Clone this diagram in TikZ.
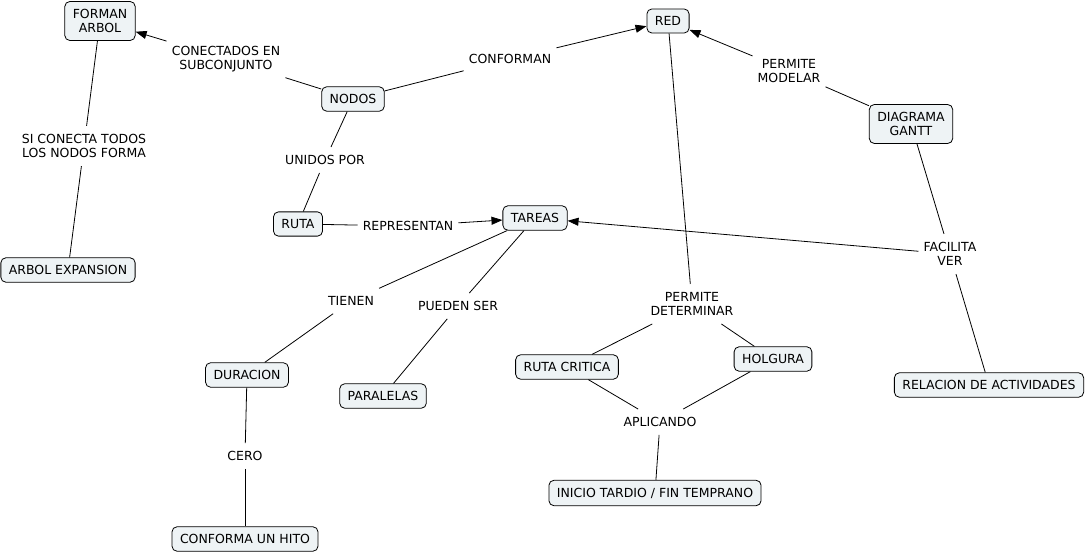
\documentclass[tikz,border=0pt]{standalone}
\usepackage{fontspec}
\setmainfont{DejaVu Sans}
\usetikzlibrary{arrows.meta}
\definecolor{conceptfill}{HTML}{EEF3F5}
\tikzset{
  concept/.style={shape=rectangle, rounded corners=5pt, draw=black, fill=conceptfill, line width=0.8pt, align=center, inner xsep=8pt, inner ysep=7.5pt},
  linkword/.style={align=center, inner xsep=5pt, inner ysep=8pt},
}

\begin{document}
\begin{tikzpicture}[x=1pt, y=-1pt, font=\fontsize{12.5}{14.5}\selectfont]
    \useasboundingbox (0,0) rectangle (1086,553);

    % concepts
    \node[concept] (FORMAN) at (100, 21) {FORMAN\\ARBOL};
    \node[concept] (NODOS) at (353, 99) {NODOS};
    \node[concept] (RED) at (668, 21) {RED};
    \node[concept] (GANTT) at (911, 124) {DIAGRAMA\\GANTT};
    \node[concept] (RUTA) at (298, 224) {RUTA};
    \node[concept] (TAREAS) at (535, 218) {TAREAS};
    \node[concept] (EXPANSION) at (68, 270) {ARBOL EXPANSION};
    \node[concept] (DURACION) at (247, 375) {DURACION};
    \node[concept] (PARALELAS) at (383, 396) {PARALELAS};
    \node[concept] (CRITICA) at (567, 367) {RUTA CRITICA};
    \node[concept] (HOLGURA) at (773, 359) {HOLGURA};
    \node[concept] (RELACION) at (989, 385) {RELACION DE ACTIVIDADES};
    \node[concept] (INICIO) at (655, 493) {INICIO TARDIO / FIN TEMPRANO};
    \node[concept] (HITO) at (245, 539) {CONFORMA UN HITO};

    % linking words
    \node[linkword] (CONECTADOS) at (226, 59) {CONECTADOS EN\\SUBCONJUNTO};
    \node[linkword] (CONFORMAN) at (510, 59) {CONFORMAN};
    \node[linkword] (MODELAR) at (789, 71) {PERMITE\\MODELAR};
    \node[linkword] (SICONECTA) at (84, 146) {SI CONECTA TODOS\\LOS NODOS FORMA};
    \node[linkword] (UNIDOS) at (325, 160) {UNIDOS POR};
    \node[linkword] (REPRESENTAN) at (408, 226) {REPRESENTAN};
    \node[linkword] (FACILITA) at (950, 254) {FACILITA\\VER};
    \node[linkword] (TIENEN) at (351, 301) {TIENEN};
    \node[linkword] (PUEDEN) at (458, 306) {PUEDEN SER};
    \node[linkword] (DETERMINAR) at (692, 304) {PERMITE\\DETERMINAR};
    \node[linkword] (APLICANDO) at (660, 422) {APLICANDO};
    \node[linkword] (CERO) at (245, 456) {CERO};

    \path [-,line width=0.8pt](NODOS) edge (CONECTADOS);
    \path [-{Triangle[length=11pt,width=8pt]},line width=0.8pt](CONECTADOS) edge (FORMAN);
    \path [-,line width=0.8pt](NODOS) edge (CONFORMAN);
    \path [-{Triangle[length=11pt,width=8pt]},line width=0.8pt](CONFORMAN) edge (RED);
    \path [-,line width=0.8pt](NODOS) edge (UNIDOS);
    \path [-,line width=0.8pt](UNIDOS) edge (RUTA);
    \path [-,line width=0.8pt](FORMAN) edge (SICONECTA);
    \path [-,line width=0.8pt](SICONECTA) edge (EXPANSION);
    \path [-,line width=0.8pt](RUTA) edge (REPRESENTAN);
    \path [-{Triangle[length=11pt,width=8pt]},line width=0.8pt](REPRESENTAN) edge (TAREAS);
    \path [-,line width=0.8pt](GANTT) edge (MODELAR);
    \path [-{Triangle[length=11pt,width=8pt]},line width=0.8pt](MODELAR) edge (RED);
    \path [-,line width=0.8pt](GANTT) edge (FACILITA);
    \path [-{Triangle[length=11pt,width=8pt]},line width=0.8pt](FACILITA) edge (TAREAS);
    \path [-,line width=0.8pt](FACILITA) edge (RELACION);
    \path [-,line width=0.8pt](TAREAS) edge (TIENEN);
    \path [-,line width=0.8pt](TIENEN) edge (DURACION);
    \path [-,line width=0.8pt](TAREAS) edge (PUEDEN);
    \path [-,line width=0.8pt](PUEDEN) edge (PARALELAS);
    \path [-,line width=0.8pt](RED) edge (DETERMINAR);
    \path [-,line width=0.8pt](DETERMINAR) edge (CRITICA);
    \path [-,line width=0.8pt](DETERMINAR) edge (HOLGURA);
    \path [-,line width=0.8pt](CRITICA) edge (APLICANDO);
    \path [-,line width=0.8pt](HOLGURA) edge (APLICANDO);
    \path [-,line width=0.8pt](APLICANDO) edge (INICIO);
    \path [-,line width=0.8pt](DURACION) edge (CERO);
    \path [-,line width=0.8pt](CERO) edge (HITO);

\end{tikzpicture}
\end{document}
